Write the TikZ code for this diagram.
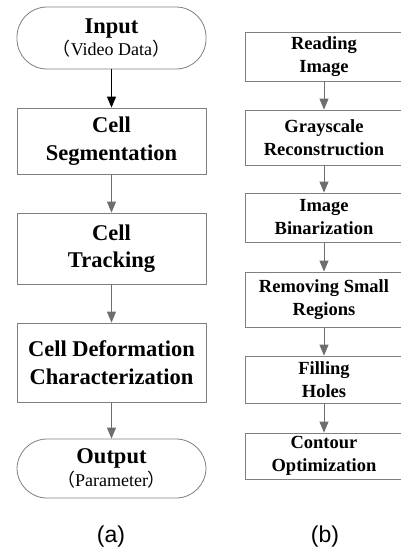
\documentclass[tikz,border=0pt]{standalone}
\usepackage{fontspec}
\setmainfont{Liberation Serif}
\newfontfamily\cjk{Noto Sans CJK SC}
\newfontfamily\labfont{Liberation Sans}
\usetikzlibrary{arrows.meta}
\definecolor{boxgray}{HTML}{7F7F7F}
\definecolor{arrgray}{HTML}{6E6E6E}
\tikzset{
  box/.style={draw=boxgray, line width=0.8pt, rectangle, inner sep=0pt, align=center, font=\bfseries\fontsize{22.5}{27.5}\selectfont},
  rbox/.style={draw=boxgray, line width=0.8pt, rectangle, inner sep=0pt, align=center, font=\bfseries\fontsize{18.5}{23}\selectfont},
  term/.style={draw=boxgray, line width=0.8pt, rectangle, rounded corners=30pt, inner sep=0pt, align=center},
  garrow/.style={draw=arrgray, line width=0.9pt, -{Triangle[length=11pt,width=9pt]}},
  barrow/.style={draw=black, line width=0.9pt, -{Triangle[length=11pt,width=9pt]}},
  lab/.style={font=\labfont\fontsize{23}{26}\selectfont}
}
\begin{document}
\begin{tikzpicture}[x=1pt,y=-1pt]
\useasboundingbox (0,0) rectangle (400,554);
% left column
\node[term, minimum width=189pt, minimum height=62pt] (in) at (111.5,38)
  {{\bfseries\fontsize{22.5}{25}\selectfont Input}\\[1pt]
   {\fontsize{18}{20}\selectfont{\cjk （}Video Data{\cjk ）}}};
\node[box, minimum width=189pt, minimum height=66pt] (seg) at (111.5,141) {Cell\\Segmentation};
\node[box, minimum width=189pt, minimum height=71pt] (trk) at (111.5,248.5) {Cell\\Tracking};
\node[box, minimum width=189pt, minimum height=79pt] (def) at (111.5,362.5) {Cell Deformation\\Characterization};
\node[term, minimum width=189pt, minimum height=59pt] (out) at (111.5,468.5)
  {{\bfseries\fontsize{22.5}{25}\selectfont Output}\\[1pt]
   {\fontsize{18}{20}\selectfont{\cjk （}Parameter{\cjk ）}}};
\draw[barrow] (in.south) -- (seg.north);
\draw[garrow] (seg.south) -- (trk.north);
\draw[garrow] (trk.south) -- (def.north);
\draw[garrow] (def.south) -- (out.north);
% right column
\node[rbox, minimum width=158pt, minimum height=49pt] (r1) at (324,56.5) {Reading\\Image};
\node[rbox, minimum width=158pt, minimum height=55pt] (r2) at (324,137.5) {Grayscale\\Reconstruction};
\node[rbox, minimum width=158pt, minimum height=49pt] (r3) at (324,217.5) {Image\\Binarization};
\node[rbox, minimum width=158pt, minimum height=55pt] (r4) at (324,299.5) {Removing Small\\Regions};
\node[rbox, minimum width=158pt, minimum height=47pt] (r5) at (324,379.5) {Filling\\Holes};
\node[rbox, minimum width=158pt, minimum height=46pt] (r6) at (324,456) {Contour\\Optimization};
\draw[garrow] (r1.south) -- (r2.north);
\draw[garrow] (r2.south) -- (r3.north);
\draw[garrow] (r3.south) -- (r4.north);
\draw[garrow] (r4.south) -- (r5.north);
\draw[garrow] (r5.south) -- (r6.north);
% labels
\node[lab] (la) at (111,537) {(a)};
\node[lab] (lb) at (325,537) {(b)};
\end{tikzpicture}
\end{document}
